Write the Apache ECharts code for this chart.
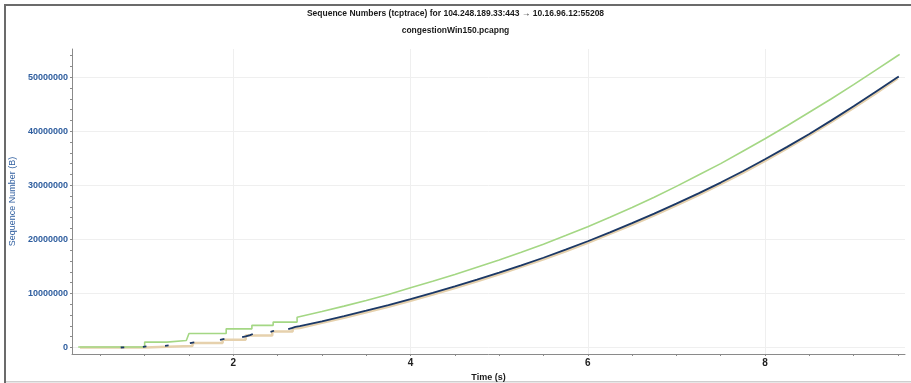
<!DOCTYPE html>
<html>
<head>
<meta charset="utf-8">
<script src="https://cdn.jsdelivr.net/npm/echarts@6.0.0/dist/echarts.min.js"></script>
<style>
  html, body { margin: 0; padding: 0; background: #fff; }
  #seqChart { width: 911px; height: 383px; }
</style>
</head>
<body>
<div id="seqChart"></div>
<script>
// axis ticks
const xLabels = [2, 4, 6, 8]
const xMinor = [0.5, 1, 1.5, 2, 2.5, 3, 3.5, 4, 4.5, 5, 5.5, 6, 6.5, 7, 7.5, 8, 8.5, 9, 9.5]
const yLabels = [0, 10000000, 20000000, 30000000, 40000000, 50000000]
const yMinor = [0, 2000000, 4000000, 6000000, 8000000, 10000000, 12000000, 14000000, 16000000, 18000000,
  20000000, 22000000, 24000000, 26000000, 28000000, 30000000, 32000000, 34000000, 36000000, 38000000,
  40000000, 42000000, 44000000, 46000000, 48000000, 50000000, 52000000, 54000000]

// receive window (green) - time (s), value (MB)
const winT = [0.25, 1.0, 1.0, 1.25, 1.25, 1.47, 1.5, 1.92, 1.92, 2.21, 2.21, 2.45, 2.45, 2.72, 2.72,
  3.0, 3.25, 3.5, 3.75, 4.0, 4.25, 4.5, 4.75, 5.0, 5.25, 5.5, 5.75, 6.0, 6.25, 6.5, 6.75, 7.0,
  7.25, 7.5, 7.75, 8.0, 8.25, 8.5, 8.75, 9.0, 9.25, 9.5, 9.52]
const winV = [0.1, 0.1, 1.0, 1.0, 1.3, 1.3, 2.6, 2.6, 3.45, 3.45, 4.1, 4.1, 4.7, 4.7, 5.6,
  6.65, 7.65, 8.7, 9.8, 11.05, 12.25, 13.5, 14.85, 16.2, 17.6, 19.1, 20.7, 22.35, 24.1, 25.9, 27.8, 29.8,
  31.9, 34.0, 36.3, 38.6, 41.0, 43.5, 46.0, 48.6, 51.3, 54.0, 54.2]

// ack line (tan)
const ackT = [0.27, 1.0, 1.0, 1.25, 1.25, 1.54, 1.54, 1.88, 1.88, 2.14, 2.14, 2.44, 2.44, 2.67, 2.67, 2.75,
  3.0, 3.25, 3.5, 3.75, 4.0, 4.25, 4.5, 4.75, 5.0, 5.25, 5.5, 5.75, 6.0, 6.25, 6.5, 6.75, 7.0,
  7.25, 7.5, 7.75, 8.0, 8.25, 8.5, 8.75, 9.0, 9.25, 9.5]
const ackV = [0, 0, 0.15, 0.15, 0.3, 0.3, 0.85, 0.85, 1.45, 1.45, 2.2, 2.2, 2.95, 2.95, 3.5, 3.6,
  4.55, 5.5, 6.5, 7.55, 8.65, 9.8, 11.0, 12.25, 13.55, 14.9, 16.3, 17.8, 19.35, 21.0, 22.7, 24.45, 26.3,
  28.2, 30.2, 32.3, 34.5, 36.8, 39.2, 41.7, 44.3, 47.0, 49.8]

// sequence segments (navy), null = gap between bursts
const seqT = [0.73, 0.77, 0.77, 0.98, 1.02, 1.02, 1.23, 1.27, 1.27, 1.51, 1.56, 1.56, 1.85, 1.9, 1.9,
  2.1, 2.14, 2.19, 2.22, 2.22, 2.42, 2.46, 2.46, 2.62, 2.66, 2.7, 2.75,
  3.0, 3.25, 3.5, 3.75, 4.0, 4.25, 4.5, 4.75, 5.0, 5.25, 5.5, 5.75, 6.0, 6.25, 6.5, 6.75, 7.0,
  7.25, 7.5, 7.75, 8.0, 8.25, 8.5, 8.75, 9.0, 9.25, 9.5, 9.51]
const seqV = [0.0, 0.04, null, 0.12, 0.2, null, 0.3, 0.38, null, 0.8, 0.95, null, 1.4, 1.58, null,
  1.9, 2.05, 2.3, 2.5, null, 2.9, 3.1, null, 3.4, 3.6, 3.8, 3.95,
  4.85, 5.8, 6.8, 7.85, 8.95, 10.1, 11.3, 12.55, 13.85, 15.2, 16.6, 18.1, 19.65, 21.3, 23.0, 24.75, 26.6,
  28.5, 30.5, 32.6, 34.8, 37.1, 39.5, 42.0, 44.6, 47.3, 50.0, 50.1]

const MB = 1000000
function pairs(ts, vs) {
  return ts.map((t, i) => [t, vs[i] === null ? '-' : vs[i] * MB])
}

const font = 'Liberation Sans, Arial, sans-serif'
const blue = '#2f5e9f'

let chart = echarts.init(document.getElementById('seqChart'))
let option = {
  animation: false,
  textStyle: { fontFamily: font },
  title: [
    {
      text: 'Sequence Numbers (tcptrace) for 104.248.189.33:443 → 10.16.96.12:55208',
      left: 'center',
      top: 9,
      padding: [0, 0, 0, 9],
      textStyle: { fontSize: 8.5, fontWeight: 'bold', color: '#1a1a1a', fontFamily: font }
    },
    {
      text: 'congestionWin150.pcapng',
      left: 'center',
      top: 26,
      padding: [0, 0, 0, 10],
      textStyle: { fontSize: 8.5, fontWeight: 'bold', color: '#1a1a1a', fontFamily: font }
    }
  ],
  graphic: [
    { type: 'rect', shape: { x: 4, y: 4, width: 907, height: 2 }, style: { fill: '#6b6b6b' } },
    { type: 'rect', shape: { x: 4, y: 4, width: 2, height: 379 }, style: { fill: '#6b6b6b' } },
    { type: 'rect', shape: { x: 6, y: 381, width: 905, height: 1.5 }, style: { fill: '#cfcfcf' } }
  ],
  grid: { left: 72, right: 6, top: 49, bottom: 29, outerBoundsMode: 'none', containLabel: false },
  xAxis: [
    {
      type: 'value',
      min: 0.18,
      max: 9.58,
      name: 'Time (s)',
      nameLocation: 'middle',
      nameGap: 17,
      nameTextStyle: { fontSize: 9, fontWeight: 'bold', color: '#1a1a1a' },
      axisLine: { onZero: false, lineStyle: { color: '#8a8a8a' } },
      axisTick: { customValues: xMinor, length: 2, lineStyle: { color: '#8a8a8a' } },
      axisLabel: { customValues: xLabels, margin: 4, fontSize: 10, fontWeight: 'bold', color: '#222' },
      splitLine: { show: false }
    },
    {
      type: 'value',
      min: 0.18,
      max: 9.58,
      position: 'bottom',
      axisLine: { show: false },
      axisTick: { show: false, customValues: xLabels },
      axisLabel: { show: false },
      splitLine: { show: true, lineStyle: { color: '#efefef' } }
    }
  ],
  yAxis: [
    {
      type: 'value',
      min: -1200000,
      max: 55200000,
      name: 'Sequence Number (B)',
      nameLocation: 'middle',
      nameGap: 52,
      nameTextStyle: { fontSize: 9, color: blue },
      axisLine: { show: true, onZero: false, lineStyle: { color: '#8a8a8a' } },
      axisTick: { show: true, customValues: yMinor, length: 2, lineStyle: { color: '#8a8a8a' } },
      axisLabel: {
        customValues: yLabels, margin: 4, fontSize: 9, fontWeight: 'bold', color: blue,
        formatter: v => String(v)
      },
      splitLine: { show: false }
    },
    {
      type: 'value',
      min: -1200000,
      max: 55200000,
      position: 'left',
      axisLine: { show: false },
      axisTick: { show: false, customValues: yLabels },
      axisLabel: { show: false },
      splitLine: { show: true, lineStyle: { color: '#efefef' } }
    }
  ],
  series: [
    {
      name: 'ack',
      type: 'line',
      showSymbol: false,
      data: pairs(ackT, ackV),
      lineStyle: { color: '#e6d1ad', width: 2.5 },
      z: 2
    },
    {
      name: 'window',
      type: 'line',
      showSymbol: false,
      data: pairs(winT, winV),
      lineStyle: { color: '#a4d784', width: 1.6 },
      z: 3
    },
    {
      name: 'segments',
      type: 'line',
      showSymbol: false,
      connectNulls: false,
      data: pairs(seqT, seqV),
      lineStyle: { color: '#1b3866', width: 1.8 },
      z: 4
    }
  ]
}
chart.setOption(option)
</script>
</body>
</html>
